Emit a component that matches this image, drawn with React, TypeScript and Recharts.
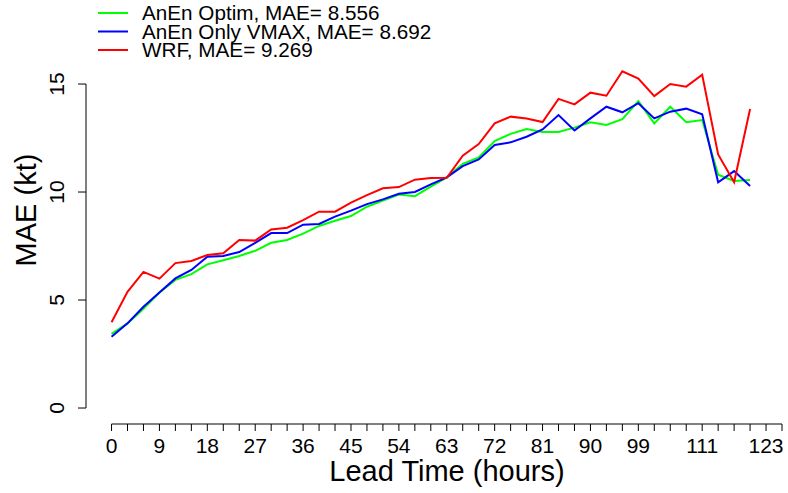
import { Label, Legend, Line, LineChart, ReferenceLine, XAxis, YAxis } from "recharts";

const hours = [
  0, 3, 6, 9, 12, 15, 18, 21, 24, 27, 30, 33, 36, 39, 42, 45, 48, 51, 54, 57, 60,
  63, 66, 69, 72, 75, 78, 81, 84, 87, 90, 93, 96, 99, 102, 105, 108, 111, 114, 117, 120,
];

const anenOptim = [
  3.43, 3.92, 4.6, 5.35, 5.93, 6.2, 6.65, 6.84, 7.04, 7.28, 7.65, 7.78, 8.07, 8.43, 8.67,
  8.89, 9.32, 9.6, 9.88, 9.81, 10.25, 10.68, 11.3, 11.6, 12.36, 12.69, 12.92, 12.78, 12.78,
  12.98, 13.23, 13.1, 13.37, 14.21, 13.18, 13.95, 13.23, 13.33, 10.8, 10.51, 10.56,
];

const anenVmax = [
  3.3, 3.92, 4.69, 5.35, 6.0, 6.39, 7.0, 7.04, 7.22, 7.65, 8.1, 8.1, 8.49, 8.52, 8.86,
  9.14, 9.44, 9.66, 9.92, 10.0, 10.35, 10.68, 11.2, 11.51, 12.18, 12.3, 12.56, 12.9, 13.56,
  12.85, 13.41, 13.95, 13.69, 14.11, 13.41, 13.72, 13.86, 13.6, 10.45, 10.97, 10.28,
];

const wrf = [
  3.97, 5.38, 6.3, 5.99, 6.71, 6.81, 7.08, 7.16, 7.78, 7.75, 8.27, 8.35, 8.7, 9.09, 9.09,
  9.51, 9.86, 10.17, 10.23, 10.57, 10.65, 10.66, 11.68, 12.22, 13.18, 13.49, 13.4, 13.24,
  14.31, 14.06, 14.6, 14.46, 15.59, 15.25, 14.44, 15.0, 14.88, 15.43, 11.74, 10.45, 13.84,
];

const xTicks = [
  0, 3, 6, 9, 12, 15, 18, 21, 24, 27, 30, 33, 36, 39, 42, 45, 48, 51, 54, 57, 60, 63,
  66, 69, 72, 75, 78, 81, 84, 87, 90, 93, 96, 99, 102, 105, 108, 111, 114, 117, 120, 123, 126,
];
const xLabels = [0, 9, 18, 27, 36, 45, 54, 63, 72, 81, 90, 99, 111, 123];
const yTicks = [0, 5, 10, 15];

const series = [
  { key: "optim", name: "AnEn Optim, MAE= 8.556", color: "#00ff00", values: anenOptim },
  { key: "vmax", name: "AnEn Only VMAX, MAE= 8.692", color: "#0000ff", values: anenVmax },
  { key: "wrf", name: "WRF, MAE= 9.269", color: "#ff0000", values: wrf },
];

const data = hours.map((h, i) => {
  const row: Record<string, number> = { hour: h };
  series.forEach((s) => (row[s.key] = s.values[i]));
  return row;
});

const FONT = "'Liberation Sans', Arial, Helvetica, sans-serif";
const X_MIN = -4.8;
const X_MAX = 126;
const Y_MIN = -0.74;
const Y_MAX = 18.89;

function YTick({ x, y, payload }: any) {
  return (
    <text
      x={x}
      y={y}
      transform={`rotate(-90, ${x}, ${y})`}
      textAnchor="middle"
      fontSize={21}
      fontFamily={FONT}
      fill="#000"
    >
      {payload.value}
    </text>
  );
}

function XTick({ x, y, payload }: any) {
  if (!xLabels.includes(payload.value)) return null;
  return (
    <text x={x} y={y + 15} textAnchor="middle" fontSize={21} fontFamily={FONT} fill="#000">
      {payload.value}
    </text>
  );
}

function LegendBox() {
  return (
    <svg width={520} height={62} style={{ display: "block" }}>
      {series.map((s, i) => {
        const y = 13 + i * 18.5;
        return (
          <g key={s.key}>
            <line x1={98} x2={128} y1={y} y2={y} stroke={s.color} strokeWidth={2} />
            <text x={142} y={y + 7.3} fontSize={20.7} fontFamily={FONT} fill="#000">
              {s.name}
            </text>
          </g>
        );
      })}
    </svg>
  );
}

export default function App() {
  return (
    <div style={{ position: "absolute", left: 0, top: 0, background: "#fff" }}>
      <LineChart
        width={788}
        height={493}
        data={data}
        margin={{ top: 0, right: 6, bottom: 0, left: 0 }}
      >
        <XAxis
          type="number"
          dataKey="hour"
          domain={[X_MIN, X_MAX]}
          allowDataOverflow
          ticks={xTicks}
          interval={0}
          height={69}
          tickSize={7}
          tickMargin={7}
          axisLine={false}
          tickLine={{ stroke: "#000", strokeWidth: 1 }}
          tick={<XTick />}
        >
          <Label
            content={({ viewBox }: any) => (
              <text
                x={viewBox.x + viewBox.width / 2 + 13}
                y={481}
                textAnchor="middle"
                fontSize={29}
                fontFamily={FONT}
                fill="#000"
              >
                Lead Time (hours)
              </text>
            )}
          />
        </XAxis>
        <YAxis
          type="number"
          domain={[Y_MIN, Y_MAX]}
          allowDataOverflow
          ticks={yTicks}
          interval={0}
          width={86}
          tickSize={8}
          tickMargin={14}
          axisLine={false}
          tickLine={{ stroke: "#000", strokeWidth: 1 }}
          tick={<YTick />}
        >
          <Label
            content={({ viewBox }: any) => {
              const cy = viewBox.y + viewBox.height / 2 - 2;
              return (
                <text
                  x={36}
                  y={cy}
                  transform={`rotate(-90, 36, ${cy})`}
                  textAnchor="middle"
                  fontSize={29}
                  fontFamily={FONT}
                  fill="#000"
                >
                  MAE (kt)
                </text>
              );
            }}
          />
        </YAxis>
        <ReferenceLine
          segment={[
            { x: 0, y: Y_MIN },
            { x: 126, y: Y_MIN },
          ]}
          stroke="#000"
          strokeWidth={1}
          ifOverflow="visible"
        />
        <ReferenceLine
          segment={[
            { x: X_MIN, y: 0 },
            { x: X_MIN, y: 15 },
          ]}
          stroke="#000"
          strokeWidth={1}
          ifOverflow="visible"
        />
        <Legend
          layout="horizontal"
          verticalAlign="middle"
          align="center"
          wrapperStyle={{ position: "absolute", left: 0, top: 0, width: 520, height: 62 }}
          content={<LegendBox />}
        />
        {series.map((s) => (
          <Line
            key={s.key}
            type="linear"
            dataKey={s.key}
            name={s.name}
            stroke={s.color}
            strokeWidth={2}
            dot={false}
            isAnimationActive={false}
          />
        ))}
      </LineChart>
    </div>
  );
}
